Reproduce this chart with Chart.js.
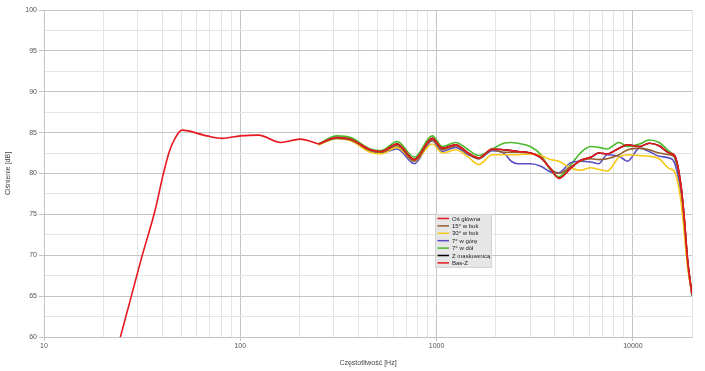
<!DOCTYPE html>
<html>
<head>
<meta charset="utf-8">
<script src="https://cdn.jsdelivr.net/npm/chart.js@4.4.0/dist/chart.umd.min.js"></script>
<style>
  body { margin: 0; background: #fff; }
  #wrap { width: 705px; height: 371px; }
</style>
</head>
<body>
<div id="wrap"><canvas id="myChart" width="705" height="371"></canvas></div>
<script>
// frequency grid shared by the measured curves (Hz)
const freqs = [250, 310, 365, 460, 520, 630, 770, 950, 1070, 1250, 1450, 1640, 1920, 2200, 2400, 2600, 3000, 3400,
  3800, 4200, 4800, 5400, 6100, 6700, 7400, 8500, 9400, 10800, 12100, 13600, 15300, 16300, 17600, 18300, 19000, 20000];

const osGlowna = [83.6, 84.4, 84.2, 82.9, 82.7, 83.6, 81.7, 84.3, 83.1, 83.5, 82.5, 81.9, 83.0, 82.9, 82.8, 82.7, 82.5, 81.9,
  80.6, 79.4, 80.6, 81.6, 82.0, 82.5, 82.4, 83.1, 83.5, 83.3, 83.7, 83.4, 82.5, 82.2, 78.4, 74.3, 69.4, 65.2];
const bok15 = [83.6, 84.3, 84.1, 82.8, 82.6, 83.4, 81.5, 84.1, 82.9, 83.4, 82.4, 81.8, 82.9, 82.6, 82.6, 82.6, 82.5, 82.0,
  80.6, 80.0, 80.8, 81.5, 81.8, 81.7, 81.8, 82.3, 82.9, 83.1, 82.9, 82.5, 82.3, 82.0, 78.2, 74.0, 69.2, 65.2];
const bok30 = [83.5, 84.3, 84.0, 82.6, 82.4, 83.2, 81.5, 83.6, 82.5, 82.9, 82.0, 81.1, 82.3, 82.3, 82.3, 82.3, 82.4, 82.2,
  81.7, 81.5, 80.7, 80.4, 80.7, 80.5, 80.3, 82.0, 82.3, 82.2, 82.1, 81.8, 80.6, 80.2, 76.5, 72.5, 68.5, 65.3];
const gora7 = [83.5, 84.4, 84.1, 82.7, 82.5, 83.0, 81.2, 84.0, 82.7, 83.2, 82.3, 81.8, 82.8, 82.5, 81.5, 81.2, 81.2, 80.9,
  80.2, 80.1, 81.3, 81.5, 81.4, 81.2, 82.3, 82.1, 81.5, 83.1, 82.7, 82.1, 81.9, 81.3, 77.5, 73.5, 69.0, 65.1];
const dol7 = [83.6, 84.6, 84.4, 83.0, 82.8, 83.9, 82.0, 84.6, 83.3, 83.8, 82.9, 82.2, 83.0, 83.7, 83.8, 83.7, 83.3, 82.3,
  80.4, 79.6, 81.0, 82.5, 83.3, 83.2, 83.0, 83.8, 83.3, 83.6, 84.1, 83.8, 82.7, 82.0, 78.0, 74.0, 69.0, 65.0];
const maskownica = [83.6, 84.4, 84.2, 82.9, 82.7, 83.6, 81.7, 84.3, 83.1, 83.5, 82.5, 81.9, 83.0, 82.9, 82.8, 82.7, 82.5, 81.9,
  80.6, 79.5, 80.6, 81.6, 82.0, 82.5, 82.4, 83.1, 83.5, 83.3, 83.7, 83.4, 82.5, 82.2, 78.4, 74.3, 69.4, 65.2];

// low frequency curve
const basFreqs = [20, 24.5, 31.5, 36.8, 40.4, 43.5, 46.5, 50.4, 67.6, 80.7, 100, 124, 160, 202, 251];
const basZ = [52.5, 60, 69.8, 75.5, 79.8, 82.7, 84.3, 85.3, 84.6, 84.3, 84.6, 84.7, 83.8, 84.2, 83.6];

const xTicks = [10, 20, 30, 40, 50, 60, 70, 80, 90, 100, 200, 300, 400, 500, 600, 700, 800, 900,
  1000, 2000, 3000, 4000, 5000, 6000, 7000, 8000, 9000, 10000, 20000];
const xLabels = [10, 100, 1000, 10000];

const series = [
  { label: 'Oś główna', values: osGlowna, color: '#e8161e' },
  { label: '15° w bok', values: bok15, color: '#94602c' },
  { label: '30° w bok', values: bok30, color: '#f7c816' },
  { label: '7° w górę', values: gora7, color: '#5a4ec4' },
  { label: '7° w dół', values: dol7, color: '#4cb82a' },
  { label: 'Z maskownicą', values: maskownica, color: '#000000' },
];

const datasets = series.map(s => ({
  label: s.label,
  data: freqs.map((f, i) => ({ x: f, y: s.values[i] })),
  borderColor: s.color,
  backgroundColor: s.color,
  borderWidth: 1.6,
  pointRadius: 0,
  cubicInterpolationMode: 'monotone',
}));
datasets.push({
  label: 'Bas-Z',
  data: basFreqs.map((f, i) => ({ x: f, y: basZ[i] })),
  borderColor: '#e8161e',
  backgroundColor: '#e8161e',
  borderWidth: 1.6,
  pointRadius: 0,
  cubicInterpolationMode: 'monotone',
});

const tickFont = { family: 'Liberation Sans, Arial, sans-serif', size: 7 };

// legend box drawn inside the plot
const boxLegend = {
  id: 'boxLegend',
  afterDraw(chart) {
    const ctx = chart.ctx;
    const x0 = 435, y0 = 214, w = 57, rowH = 7.4;
    const h = rowH * chart.data.datasets.length + 2;
    ctx.save();
    ctx.fillStyle = '#e6e6e6';
    ctx.fillRect(x0, y0, w, h);
    ctx.strokeStyle = '#d4d4d4';
    ctx.lineWidth = 1;
    ctx.strokeRect(x0 + 0.5, y0 + 0.5, w - 1, h - 1);
    ctx.font = '6px "Liberation Sans", Arial, sans-serif';
    ctx.textBaseline = 'middle';
    chart.data.datasets.forEach((ds, i) => {
      const cy = y0 + 4.5 + i * rowH;
      ctx.strokeStyle = ds.borderColor;
      ctx.lineWidth = 1.5;
      ctx.beginPath();
      ctx.moveTo(x0 + 2.5, cy);
      ctx.lineTo(x0 + 14, cy);
      ctx.stroke();
      ctx.fillStyle = '#222';
      ctx.fillText(ds.label, x0 + 17, cy + 0.5);
    });
    ctx.restore();
  }
};

const myChart = new Chart('myChart', {
  type: 'line',
  data: { datasets },
  plugins: [boxLegend],
  options: {
    responsive: false,
    animation: false,
    layout: { padding: { top: 10, right: 13, left: 0, bottom: 0 } },
    plugins: {
      legend: { display: false },
      tooltip: { enabled: false },
    },
    scales: {
      x: {
        type: 'logarithmic',
        min: 10,
        max: 20000,
        afterBuildTicks: scale => { scale.ticks = xTicks.map(v => ({ value: v })); },
        afterFit: scale => { scale.height = 34; },
        ticks: {
          autoSkip: false,
          maxRotation: 0,
          font: tickFont,
          color: '#555',
          padding: 1,
          callback: v => xLabels.includes(v) ? String(v) : '',
        },
        grid: {
          color: c => xLabels.includes(c.tick && c.tick.value) ? '#c4c4c4' : '#e4e4e4',
          tickColor: c => xLabels.includes(c.tick && c.tick.value) ? '#c4c4c4' : 'rgba(0,0,0,0)',
          tickLength: 4,
        },
        border: { color: '#c4c4c4' },
        title: {
          display: true,
          text: 'Częstotliwość [Hz]',
          font: tickFont,
          color: '#444',
          padding: { top: 6, bottom: 4 },
        },
      },
      y: {
        min: 60,
        max: 100,
        afterFit: scale => { scale.width = 44; },
        ticks: {
          stepSize: 2.5,
          font: tickFont,
          color: '#555',
          padding: 2,
          callback: v => v % 5 === 0 ? String(v) : '',
        },
        grid: {
          color: c => c.tick && c.tick.value % 5 === 0 ? '#c4c4c4' : '#e4e4e4',
          tickColor: c => c.tick && c.tick.value % 5 === 0 ? '#c4c4c4' : 'rgba(0,0,0,0)',
          tickLength: 5,
        },
        border: { color: '#c4c4c4' },
        title: {
          display: true,
          text: 'Ciśnienie [dB]',
          font: tickFont,
          color: '#444',
          padding: { top: 4, bottom: 4 },
        },
      },
    },
  },
});
</script>
</body>
</html>
